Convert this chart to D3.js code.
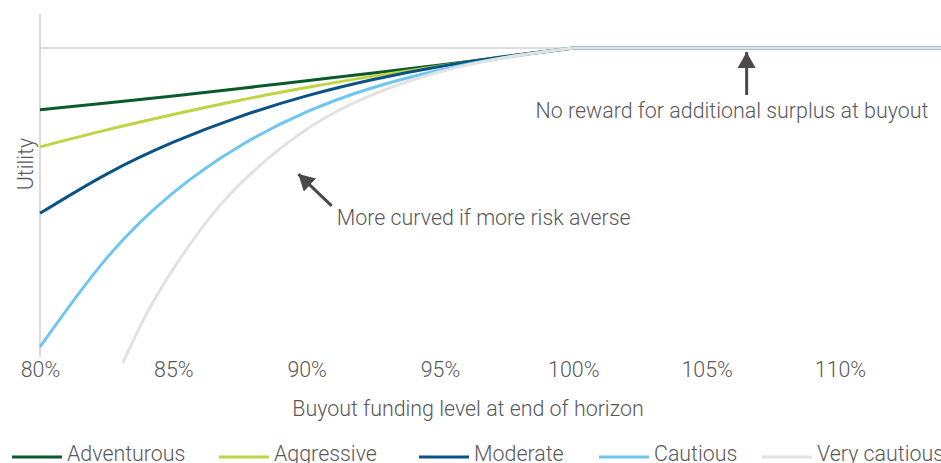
<!DOCTYPE html>
<html>
<head>
<meta charset="utf-8">
<script src="https://cdn.jsdelivr.net/npm/d3@7"></script>
<style>
  body { margin: 0; background: #fff; }
  svg { display: block; font-family: Roboto, "Open Sans", sans-serif; font-weight: 300; }
</style>
</head>
<body>
<div id="chart"></div>
<script>
// funding level (%) at end of horizon, and utility
const fundingLevels = [80, 82.5, 85, 87.5, 90, 92.5, 95, 97.5, 100, 115];
const adventurous = [-0.200, -0.178, -0.155, -0.131, -0.106, -0.081, -0.055, -0.028, 0, 0];
const aggressive = [-0.320, -0.265, -0.215, -0.169, -0.128, -0.091, -0.058, -0.027, 0, 0];
const moderate = [-0.535, -0.408, -0.305, -0.222, -0.155, -0.102, -0.060, -0.027, 0, 0];
const cautious = [-0.967, -0.680, -0.468, -0.317, -0.207, -0.128, -0.071, -0.030, 0, 0];
// very cautious curve only enters the plot at about 83%
const veryCautiousLevels = [83.1, 84, 85, 86, 87.5, 90, 92.5, 95, 97.5, 100, 115];
const veryCautious = [-1.02, -0.86, -0.715, -0.59, -0.44, -0.263, -0.15, -0.077, -0.030, 0, 0];

const seriesNames = ["Adventurous", "Aggressive", "Moderate", "Cautious", "Very cautious"];
const seriesColors = ["#0b5a2c", "#bfd443", "#0b5286", "#6ec6f1", "#e2e2e2"];
const xTicks = [80, 85, 90, 95, 100, 105, 110];

const series = [
  { name: seriesNames[0], x: fundingLevels, y: adventurous },
  { name: seriesNames[1], x: fundingLevels, y: aggressive },
  { name: seriesNames[2], x: fundingLevels, y: moderate },
  { name: seriesNames[3], x: fundingLevels, y: cautious },
  { name: seriesNames[4], x: veryCautiousLevels, y: veryCautious }
];

const width = 941, height = 463;
const textColor = "#595959";
const fs = 21.4;

const svg = d3.select("#chart").append("svg")
  .attr("width", width)
  .attr("height", height);

const x = d3.scaleLinear().domain([80, 115]).range([40, 973.3]);
const y = d3.scaleLinear().domain([-1, 0.11]).range([357, 14]);

// y axis line (no ticks)
svg.append("line")
  .attr("x1", x(80)).attr("x2", x(80))
  .attr("y1", y(0.11)).attr("y2", y(-1))
  .attr("stroke", "#cfcfcf").attr("stroke-width", 1.5);

// zero gridline
svg.append("line")
  .attr("x1", x(80)).attr("x2", width)
  .attr("y1", y(0)).attr("y2", y(0))
  .attr("stroke", "#d0d0d0").attr("stroke-width", 1.5);

// x tick labels
const xAxis = svg.append("g")
  .attr("transform", `translate(0,${y(-1)})`)
  .call(d3.axisBottom(x).tickValues(xTicks).tickFormat(d => d + "%").tickSize(0).tickPadding(5));
xAxis.select(".domain").remove();
xAxis.selectAll("text")
  .attr("font-family", "Roboto, sans-serif")
  .attr("font-weight", 300)
  .attr("font-size", fs)
  .attr("fill", textColor);

// axis titles
svg.append("text")
  .attr("x", 468).attr("y", 416)
  .attr("text-anchor", "middle")
  .attr("font-size", fs).attr("fill", textColor)
  .text("Buyout funding level at end of horizon");

svg.append("text")
  .attr("transform", `translate(33,${164}) rotate(-90)`)
  .attr("text-anchor", "middle")
  .attr("font-size", fs).attr("fill", textColor)
  .text("Utility");

// curves: smooth part up to 100%, flat beyond
const smooth = d3.line()
  .x(d => x(d[0]))
  .y(d => y(d[1]))
  .curve(d3.curveNatural);
const flat = d3.line()
  .x(d => x(d[0]))
  .y(d => y(d[1]));

function curvePath(s) {
  const pts = s.x.map((v, i) => [v, s.y[i]]);
  const rising = pts.filter(p => p[0] <= 100);
  const level = pts.filter(p => p[0] >= 100);
  return smooth(rising) + flat(level);
}

svg.selectAll(".curve")
  .data(series)
  .enter()
  .append("path")
  .attr("class", "curve")
  .attr("d", curvePath)
  .attr("fill", "none")
  .attr("stroke", (s, i) => seriesColors[i])
  .attr("stroke-width", 3);

// annotations
svg.append("defs").append("marker")
  .attr("id", "head")
  .attr("markerUnits", "userSpaceOnUse")
  .attr("viewBox", "0 0 16 18")
  .attr("refX", 16).attr("refY", 9)
  .attr("markerWidth", 16).attr("markerHeight", 18)
  .attr("orient", "auto")
  .append("path")
  .attr("d", "M0,0 L16,9 L0,18 Z")
  .attr("fill", "#4a4a4a");

function arrow(x1, y1, x2, y2) {
  svg.append("line")
    .attr("x1", x(x1)).attr("y1", y(y1))
    .attr("x2", x(x2)).attr("y2", y(y2))
    .attr("stroke", "#4a4a4a").attr("stroke-width", 3)
    .attr("marker-end", "url(#head)");
}

arrow(106.5, -0.152, 106.5, -0.013);
svg.append("text")
  .attr("x", x(105.95)).attr("y", y(-0.226))
  .attr("text-anchor", "middle")
  .attr("font-size", fs).attr("fill", textColor)
  .text("No reward for additional surplus at buyout");

arrow(90.94, -0.511, 89.69, -0.408);
svg.append("text")
  .attr("x", x(91.13)).attr("y", y(-0.572))
  .attr("font-size", fs).attr("fill", textColor)
  .text("More curved if more risk averse");

// legend
const legendX = [12, 219, 419, 599, 762];
const legend = svg.selectAll(".legend")
  .data(seriesNames)
  .enter()
  .append("g")
  .attr("class", "legend")
  .attr("transform", (d, i) => `translate(${legendX[i]},457)`);

legend.append("line")
  .attr("x1", 0).attr("x2", 50)
  .attr("stroke", (d, i) => seriesColors[i])
  .attr("stroke-width", 3);

legend.append("text")
  .attr("x", 55).attr("y", 4)
  .attr("font-size", fs).attr("fill", textColor)
  .text(d => d);
</script>
</body>
</html>
